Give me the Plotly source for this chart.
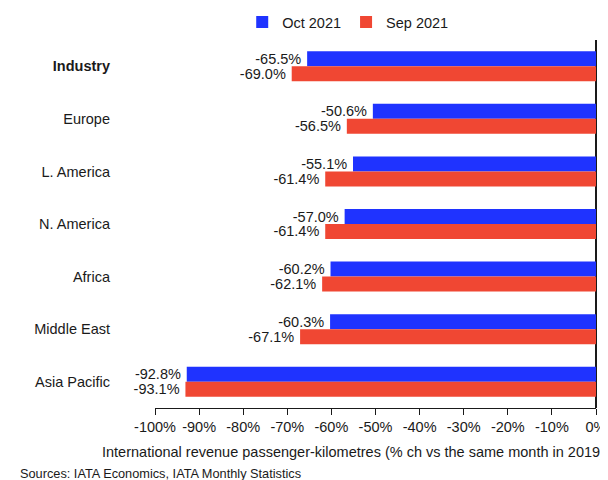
import plotly.graph_objects as go

categories = ["<b>Industry</b>", "Europe", "L. America", "N. America", "Africa", "Middle East", "Asia Pacific"]
oct_2021 = [-65.5, -50.6, -55.1, -57.0, -60.2, -60.3, -92.8]
sep_2021 = [-69.0, -56.5, -61.4, -61.4, -62.1, -67.1, -93.1]
x_ticks = [-100, -90, -80, -70, -60, -50, -40, -30, -20, -10, 0]
x_tick_labels = [f"{v}%" for v in x_ticks]
x_title = "International revenue passenger-kilometres (% ch vs the same month in 2019)"
source = "Sources: IATA Economics, IATA Monthly Statistics"

BLUE = "#1F33FF"
RED = "#F04733"
FONT = "Liberation Sans"
FS = 14.5
INK = "#1a1a1a"

fig = go.Figure()
fig.add_trace(go.Bar(
    y=categories, x=oct_2021, orientation="h", name="Oct 2021",
    marker=dict(color=BLUE, line=dict(width=0)),
    text=[f"{v:.1f}%\u2009" for v in oct_2021], textposition="outside",
    constraintext="none",
    textfont=dict(size=FS, color=INK, family=FONT), cliponaxis=False,
))
fig.add_trace(go.Bar(
    y=categories, x=sep_2021, orientation="h", name="Sep 2021",
    marker=dict(color=RED, line=dict(width=0)),
    text=[f"{v:.1f}%\u2009" for v in sep_2021], textposition="outside",
    constraintext="none",
    textfont=dict(size=FS, color=INK, family=FONT), cliponaxis=False,
))

fig.update_layout(
    width=608, height=480,
    margin=dict(l=147, r=20, t=32, b=80, autoexpand=False),
    paper_bgcolor="white", plot_bgcolor="white",
    font=dict(family=FONT, size=FS, color=INK),
    barmode="group", bargap=0.43, bargroupgap=0,
    showlegend=True,
    legend=dict(orientation="h", x=0.437, y=1.049, xanchor="center", yanchor="middle",
                font=dict(size=FS), itemwidth=30, traceorder="normal",
                bgcolor="rgba(0,0,0,0)"),
    xaxis=dict(range=[-100, 0], tickvals=x_ticks, ticktext=x_tick_labels,
               showgrid=False, showline=True, linecolor=INK, linewidth=1,
               ticks="outside", ticklen=6, tickcolor=INK,
               zeroline=True, zerolinecolor=INK, zerolinewidth=2,
               tickfont=dict(size=FS), automargin=False),
    yaxis=dict(autorange="reversed", showgrid=False, showline=False, ticks="",
               ticklabelstandoff=44, tickfont=dict(size=FS), automargin=False),
    annotations=[
        dict(text=x_title, xref="paper", yref="paper", x=0.451, y=-0.1196,
             xanchor="center", yanchor="middle", showarrow=False,
             font=dict(size=FS, color=INK)),
        dict(text=source, xref="paper", yref="paper", x=-0.3107, y=-0.179,
             xanchor="left", yanchor="middle", showarrow=False,
             font=dict(size=12.75, color=INK)),
    ],
)

fig.write_html("out.html")
